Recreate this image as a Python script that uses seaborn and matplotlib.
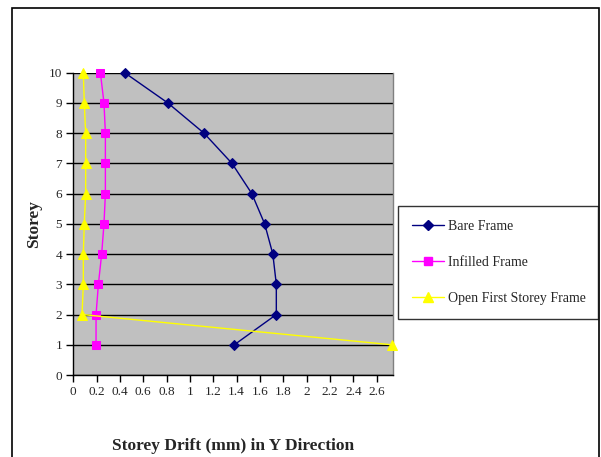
import matplotlib
matplotlib.use("Agg")
import matplotlib.pyplot as plt
import seaborn as sns
import pandas as pd
from matplotlib.patches import Rectangle
from matplotlib.lines import Line2D

storey = [1, 2, 3, 4, 5, 6, 7, 8, 9, 10]
bare_frame = [1.38, 1.74, 1.74, 1.71, 1.64, 1.53, 1.36, 1.12, 0.81, 0.44]
infilled_frame = [0.195, 0.195, 0.215, 0.243, 0.263, 0.275, 0.275, 0.275, 0.263, 0.232]
open_first = [2.73, 0.075, 0.086, 0.086, 0.094, 0.106, 0.106, 0.106, 0.094, 0.086]
series_names = ["Bare Frame", "Infilled Frame", "Open First Storey Frame"]
x_ticks = [0, 0.2, 0.4, 0.6, 0.8, 1, 1.2, 1.4, 1.6, 1.8, 2, 2.2, 2.4, 2.6]
x_tick_labels = ["0", "0.2", "0.4", "0.6", "0.8", "1", "1.2", "1.4", "1.6", "1.8", "2", "2.2", "2.4", "2.6"]
y_ticks = list(range(0, 11))

rows = []
for name, vals in zip(series_names, [bare_frame, infilled_frame, open_first]):
    for s, v in zip(storey, vals):
        rows.append({"series": name, "storey": s, "drift": v})
df = pd.DataFrame(rows)

sns.set_style("white")
plt.rcParams["font.family"] = ["Liberation Serif", "DejaVu Serif"]

colors = {"Bare Frame": "#000080", "Infilled Frame": "#FF00FF", "Open First Storey Frame": "#FFFF00"}
markers = {"Bare Frame": "D", "Infilled Frame": "s", "Open First Storey Frame": "^"}
msizes = {"Bare Frame": 5.5, "Infilled Frame": 6, "Open First Storey Frame": 7}

fig = plt.figure(figsize=(6.01, 4.57), dpi=100)
W, H = 601, 457
ax = fig.add_axes([73.3 / W, 1 - 375 / H, (393 - 73.3) / W, (375 - 72.7) / H])
ax.set_facecolor("#C0C0C0")

for name in series_names:
    sub = df[df["series"] == name]
    sns.lineplot(data=sub, x="drift", y="storey", sort=False, estimator=None,
                 color=colors[name], marker=markers[name], markersize=msizes[name],
                 markeredgecolor=colors[name], linewidth=1, ax=ax, legend=False,
                 clip_on=False, zorder=3)

ax.set_xlim(0, 2.74)
ax.set_ylim(0, 10)
ax.set_xticks(x_ticks)
ax.set_xticklabels(x_tick_labels)
ax.set_yticks(y_ticks)
ax.yaxis.grid(True, color="black", linewidth=1)
ax.xaxis.grid(False)
ax.set_axisbelow(True)
ax.tick_params(axis="both", direction="out", length=5, width=1, color="black",
               labelsize=9.5, bottom=True, left=True, pad=3)
for side in ["left", "bottom"]:
    ax.spines[side].set_color("black")
    ax.spines[side].set_linewidth(1)
ax.spines["top"].set_visible(False)
ax.spines["right"].set_color("#808080")
ax.spines["right"].set_linewidth(1)

ax.set_xlabel("Storey Drift (mm) in Y Direction", fontsize=12.5, fontweight="bold", labelpad=29)
ax.set_ylabel("Storey", fontsize=12.5, fontweight="bold", labelpad=5)

handles = [Line2D([0], [0], color=colors[n], marker=markers[n], markersize=msizes[n],
                  markeredgecolor=colors[n], linewidth=1) for n in series_names]
leg = fig.legend(handles, series_names, loc="upper left",
                 bbox_to_anchor=(398 / W, 1 - 319 / H, 200 / W, 113 / H), mode="expand",
                 frameon=True, fancybox=False, fontsize=10, labelspacing=1.65,
                 handlelength=2.3, handletextpad=0.3, borderpad=1.0, borderaxespad=0)
leg.get_frame().set_edgecolor("black")
leg.get_frame().set_linewidth(1)

fig.patches.append(Rectangle((12 / W, -0.01), (599 - 12) / W, (457 - 8) / H + 0.01,
                             transform=fig.transFigure, fill=False, edgecolor="black",
                             linewidth=1.2))

fig.savefig("out.png", dpi=100)
